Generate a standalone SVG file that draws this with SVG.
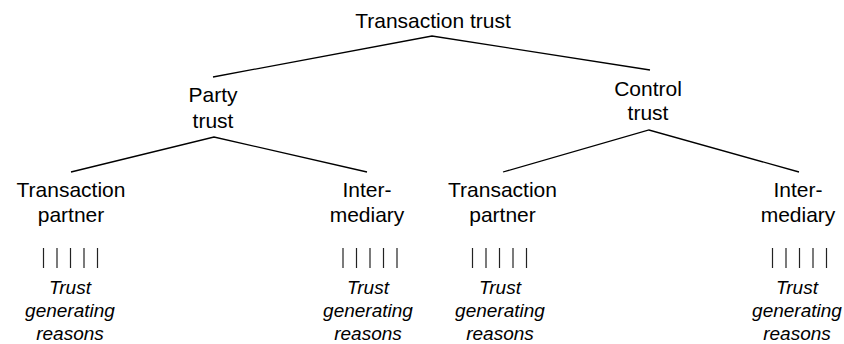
<svg xmlns="http://www.w3.org/2000/svg" width="844" height="344" viewBox="0 0 844 344">
<style>
.lbl{font-family:"Liberation Sans",Arial,sans-serif;font-size:21px;fill:#000;text-anchor:middle}
.rsn{font-family:"Liberation Sans",Arial,sans-serif;font-size:19px;font-style:italic;fill:#000;text-anchor:middle}
.edge{fill:none;stroke:#000;stroke-width:1.3}
.tick{stroke:#222;stroke-width:1.2}
</style>
<rect width="844" height="344" fill="#fff"/>
<g id="connectors">
<polyline class="edge" points="213,77 432,36 650,70"/>
<polyline class="edge" points="71,172 214,137 367,172"/>
<polyline class="edge" points="503,172 649,130 799,172"/>
</g>
<g id="transaction-trust"><text class="lbl" x="433" y="27.5">Transaction trust</text></g>
<g id="party-trust"><text class="lbl" x="213" y="102">Party</text><text class="lbl" x="213" y="127.5">trust</text></g>
<g id="control-trust"><text class="lbl" x="648" y="95.5">Control</text><text class="lbl" x="648" y="120">trust</text></g>
<g id="party-partner">
<text class="lbl" x="71" y="197">Transaction</text><text class="lbl" x="71" y="222">partner</text>
<g class="tick"><line x1="43.5" y1="248" x2="43.5" y2="268"/><line x1="57" y1="248" x2="57" y2="268"/><line x1="70.5" y1="248" x2="70.5" y2="268"/><line x1="84" y1="248" x2="84" y2="268"/><line x1="97.5" y1="248" x2="97.5" y2="268"/></g>
<text class="rsn" x="70" y="294">Trust</text><text class="rsn" x="70" y="317">generating</text><text class="rsn" x="70" y="340">reasons</text>
</g>
<g id="party-intermediary">
<text class="lbl" x="367" y="197">Inter-</text><text class="lbl" x="367" y="222">mediary</text>
<g class="tick"><line x1="343" y1="248" x2="343" y2="268"/><line x1="356.5" y1="248" x2="356.5" y2="268"/><line x1="370" y1="248" x2="370" y2="268"/><line x1="383.5" y1="248" x2="383.5" y2="268"/><line x1="397" y1="248" x2="397" y2="268"/></g>
<text class="rsn" x="368" y="294">Trust</text><text class="rsn" x="368" y="317">generating</text><text class="rsn" x="368" y="340">reasons</text>
</g>
<g id="control-partner">
<text class="lbl" x="502.5" y="197">Transaction</text><text class="lbl" x="502.5" y="222">partner</text>
<g class="tick"><line x1="472.5" y1="248" x2="472.5" y2="268"/><line x1="486" y1="248" x2="486" y2="268"/><line x1="499.5" y1="248" x2="499.5" y2="268"/><line x1="513" y1="248" x2="513" y2="268"/><line x1="526.5" y1="248" x2="526.5" y2="268"/></g>
<text class="rsn" x="500" y="294">Trust</text><text class="rsn" x="500" y="317">generating</text><text class="rsn" x="500" y="340">reasons</text>
</g>
<g id="control-intermediary">
<text class="lbl" x="798" y="197">Inter-</text><text class="lbl" x="798" y="222">mediary</text>
<g class="tick"><line x1="772.5" y1="248" x2="772.5" y2="268"/><line x1="786" y1="248" x2="786" y2="268"/><line x1="799.5" y1="248" x2="799.5" y2="268"/><line x1="813" y1="248" x2="813" y2="268"/><line x1="826.5" y1="248" x2="826.5" y2="268"/></g>
<text class="rsn" x="797" y="294">Trust</text><text class="rsn" x="797" y="317">generating</text><text class="rsn" x="797" y="340">reasons</text>
</g>
</svg>
